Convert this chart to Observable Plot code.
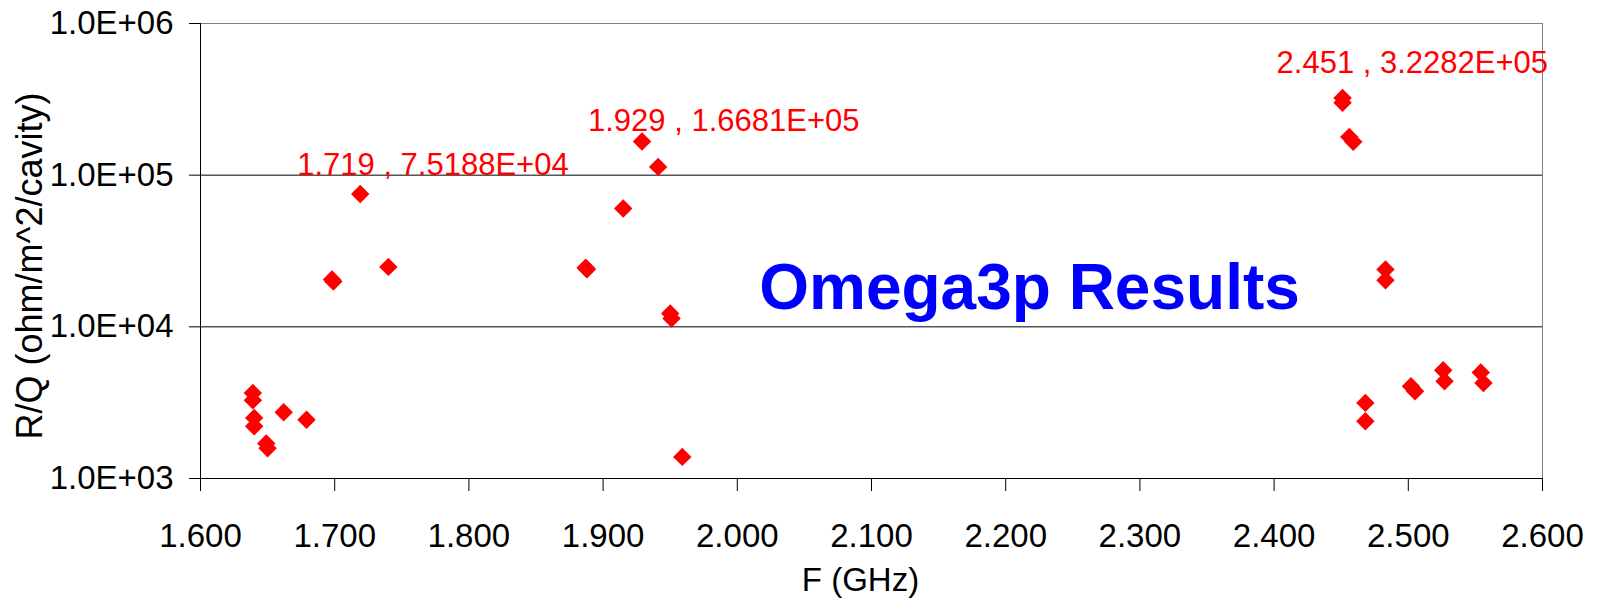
<!DOCTYPE html>
<html><head><meta charset="utf-8">
<script src="https://cdn.jsdelivr.net/npm/d3@7"></script>
<script src="https://cdn.jsdelivr.net/npm/@observablehq/plot@0.6"></script>
<style>body{margin:0;background:#fff} svg{display:block}</style>
</head><body><div id="chart"></div>
<script>
// Frequency (GHz) and R/Q (ohm/m^2/cavity)
const freq = [1.639, 1.639, 1.640, 1.640, 1.649, 1.650, 1.662, 1.679,
              1.698, 1.699, 1.719, 1.740,
              1.887, 1.888, 1.915, 1.929, 1.941, 1.950, 1.951, 1.959,
              2.451, 2.451, 2.456, 2.459, 2.468, 2.468, 2.483, 2.483,
              2.502, 2.505, 2.526, 2.527, 2.554, 2.556];
const rq   = [3660, 3280, 2510, 2210, 1700, 1580, 2735, 2440,
              20500, 19900, 75188, 24840,
              24500, 24000, 60300, 166810, 113400, 12240, 11350, 1388,
              322820, 300000, 178800, 165800, 3151, 2386, 23880, 20300,
              4061, 3763, 5176, 4380, 5000, 4268];

const xTicks = [1.6, 1.7, 1.8, 1.9, 2.0, 2.1, 2.2, 2.3, 2.4, 2.5, 2.6];
const yTicks = [1e3, 1e4, 1e5, 1e6];
const gridValues = [1e4, 1e5];

const labelFreq = [1.719, 1.929, 2.451];
const labelRQ = [75188, 166810, 322820];
const labelText = ["1.719 , 7.5188E+04", "1.929 , 1.6681E+05", "2.451 , 3.2282E+05"];

const xTitle = "F (GHz)";
const yTitle = "R/Q (ohm/m^2/cavity)";
const noteText = "Omega3p Results";

const sci = d => {
  const [m, e] = d.toExponential(1).split("e");
  const n = Math.abs(+e);
  return m + "E" + (+e < 0 ? "-" : "+") + String(n).padStart(2, "0");
};

const points = freq.map((f, i) => ({f, r: rq[i]}));
const labels = labelFreq.map((f, i) => ({f, r: labelRQ[i], t: labelText[i]}));
const labelOffsets = [{dx: -63, dy: -19}, {dx: -54, dy: -10}, {dx: -66, dy: -25}];

const font = "Arial, 'Liberation Sans', sans-serif";

const chart = Plot.plot({
  width: 1603,
  height: 598,
  marginLeft: 200,
  marginRight: 61,
  marginTop: 23,
  marginBottom: 120,
  style: {fontFamily: font, background: "#fff", color: "#000"},
  x: {domain: [1.6, 2.6]},
  y: {type: "log", domain: [1e3, 1e6]},
  marks: [
    Plot.ruleY(gridValues, {stroke: "#000"}),
    Plot.ruleY([1e6], {stroke: "#808080"}),
    Plot.ruleX([2.6], {stroke: "#808080"}),
    Plot.ruleX([1.6], {stroke: "#000"}),
    Plot.ruleY([1e3], {stroke: "#000"}),
    Plot.axisY({ticks: yTicks, tickFormat: sci, tickSize: 11, tickPadding: 16, fontSize: 33, label: null}),
    Plot.axisX({ticks: xTicks, tickFormat: d3.format(".3f"), tickSize: 13, tickPadding: 32, fontSize: 33, label: null}),
    Plot.dot(points, {x: "f", y: "r", symbol: "diamond2", r: 8.3, fill: "#ff0000"}),
    ...labels.map((d, i) => Plot.text([d], {
      x: "f", y: "r", text: "t", textAnchor: "start", lineAnchor: "bottom",
      dx: labelOffsets[i].dx, dy: labelOffsets[i].dy, fill: "#ff0000", fontSize: 31
    })),
    Plot.text([noteText], {text: d => d, frameAnchor: "middle", textAnchor: "middle", dx: 158, dy: 58, lineAnchor: "bottom",
      fill: "#0000ff", fontSize: 64, fontWeight: "bold"}),
    Plot.text([xTitle], {text: d => d, frameAnchor: "bottom", textAnchor: "middle", dx: -11, dy: 112, lineAnchor: "bottom",
      fontSize: 33, fill: "#000"}),
    Plot.text([yTitle], {text: d => d, frameAnchor: "left", textAnchor: "middle", rotate: -90, dx: -159, dy: 15, lineAnchor: "bottom",
      fontSize: 36, fill: "#000"})
  ]
});
document.getElementById("chart").appendChild(chart);
</script>
</body></html>
